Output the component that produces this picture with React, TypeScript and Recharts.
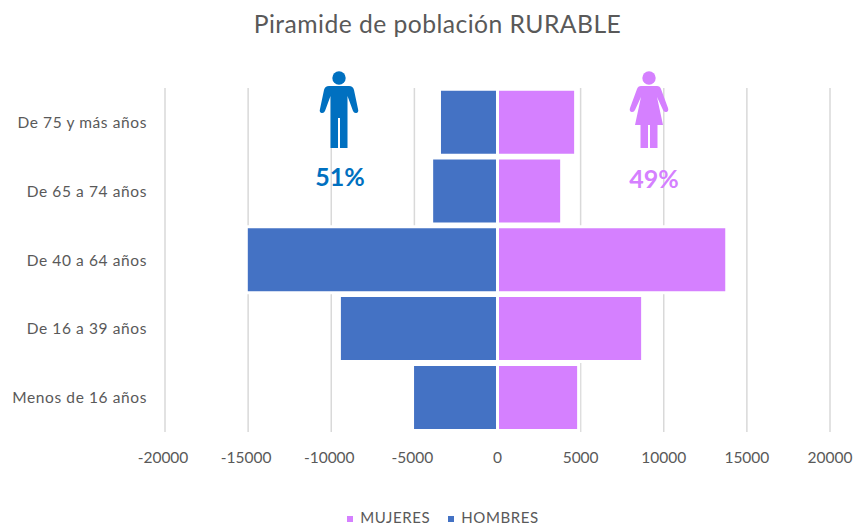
import React from "react";
import { BarChart, Bar, XAxis, YAxis, CartesianGrid, Legend } from "recharts";

const categories = ["De 75 y más años", "De 65 a 74 años", "De 40 a 64 años", "De 16 a 39 años", "Menos de 16 años"];
const mujeres = [4700, 3860, 13790, 8730, 4880];
const hombres = [-3490, -3960, -15110, -9510, -5110];
const xTicks = [-20000, -15000, -10000, -5000, 0, 5000, 10000, 15000, 20000];
const title = "Piramide de población RURABLE";
const shareMen = "51%";
const shareWomen = "49%";

const rows = categories.map((name, i) => ({ name, MUJERES: mujeres[i], HOMBRES: hombres[i] }));
const font = "Lato, 'Open Sans', sans-serif";
const BLUE = "#4472C4";
const PINK = "#D580FF";

function Man() {
  return (
    <svg width={40} height={80} viewBox="0 0 40 80" style={{ position: "absolute", left: 319, top: 71 }} fill="#0070C0">
      <circle cx={20} cy={7} r={6.7} />
      <path d="M10 15 H30 Q34 15 35 19 L39 38 Q40 41 37.5 42 Q35 42.5 34 40 L28.5 25 V77 H21 V47 H19 V77 H11.5 V25 L6 40 Q5 42.5 2.5 42 Q0 41 1 38 L5 19 Q6 15 10 15 Z" />
    </svg>
  );
}

function Woman() {
  return (
    <svg width={40} height={80} viewBox="0 0 40 80" style={{ position: "absolute", left: 629, top: 71 }} fill={PINK}>
      <circle cx={20} cy={7} r={6.7} />
      <path d="M12 15 H28 Q31 15 32 18 L39 37 Q40 40 37.5 41 Q35 41.5 34 39 L28 26 L34 54 H28.5 V77 H21 V54 H19 V77 H11.5 V54 H6 L12 26 L6 39 Q5 41.5 2.5 41 Q0 40 1 37 L8 18 Q9 15 12 15 Z" />
    </svg>
  );
}

function XTick(props: any) {
  const { x, y, payload } = props;
  return (
    <text x={x} y={y} dx={payload.value < 0 ? -2 : 0} dy={14} textAnchor="middle" fill="#595959" fontSize={15.5} fontFamily={font}>
      {payload.value}
    </text>
  );
}

export default function App() {
  return (
    <div style={{ position: "absolute", left: 0, top: 0, width: 855, height: 526, background: "#fff", fontFamily: font }}>
      <div style={{ position: "absolute", left: 0, width: 875, top: 9, textAlign: "center", fontSize: 24.7, color: "#595959", letterSpacing: 0.45 }}>
        {title}
      </div>
      <BarChart
        width={855}
        height={526}
        data={rows}
        layout="vertical"
        stackOffset="sign"
        barCategoryGap="1.75%"
        margin={{ top: 88, right: 25, bottom: 36, left: 0 }}
      >
        <CartesianGrid horizontal={false} stroke="#D9D9D9" strokeWidth={1.5} />
        <XAxis
          type="number"
          domain={[-20000, 20000]}
          ticks={xTicks}
          axisLine={false}
          tickLine={false}
          interval={0}
          tick={<XTick />}
          tickMargin={11}
          height={40}
        />
        <YAxis
          type="category"
          dataKey="name"
          width={165}
          axisLine={false}
          tickLine={false}
          interval={0}
          tick={{ fill: "#595959", fontSize: 15.5, fontFamily: font, letterSpacing: 0.6 }}
          tickMargin={12}
        />
        <Legend
          verticalAlign="bottom"
          iconType="square"
          iconSize={6}
          itemSorter={null}
          wrapperStyle={{ fontSize: 15, fontFamily: font, letterSpacing: 0.6, left: 0, width: 896, bottom: 0 }}
          formatter={(v: string) => <span style={{ color: "#595959", marginLeft: 3, marginRight: v === "MUJERES" ? 8 : 0 }}>{v}</span>}
        />
        <Bar dataKey="MUJERES" stackId="a" fill={PINK} stroke="#fff" strokeWidth={3} isAnimationActive={false} />
        <Bar dataKey="HOMBRES" stackId="a" fill={BLUE} stroke="#fff" strokeWidth={3} isAnimationActive={false} />
      </BarChart>
      <Man />
      <Woman />
      <div style={{ position: "absolute", left: 300, width: 80, top: 161, textAlign: "center", fontSize: 25, fontWeight: 700, color: "#0070C0" }}>{shareMen}</div>
      <div style={{ position: "absolute", left: 614, width: 80, top: 163, textAlign: "center", fontSize: 25, fontWeight: 700, color: PINK }}>{shareWomen}</div>
    </div>
  );
}
